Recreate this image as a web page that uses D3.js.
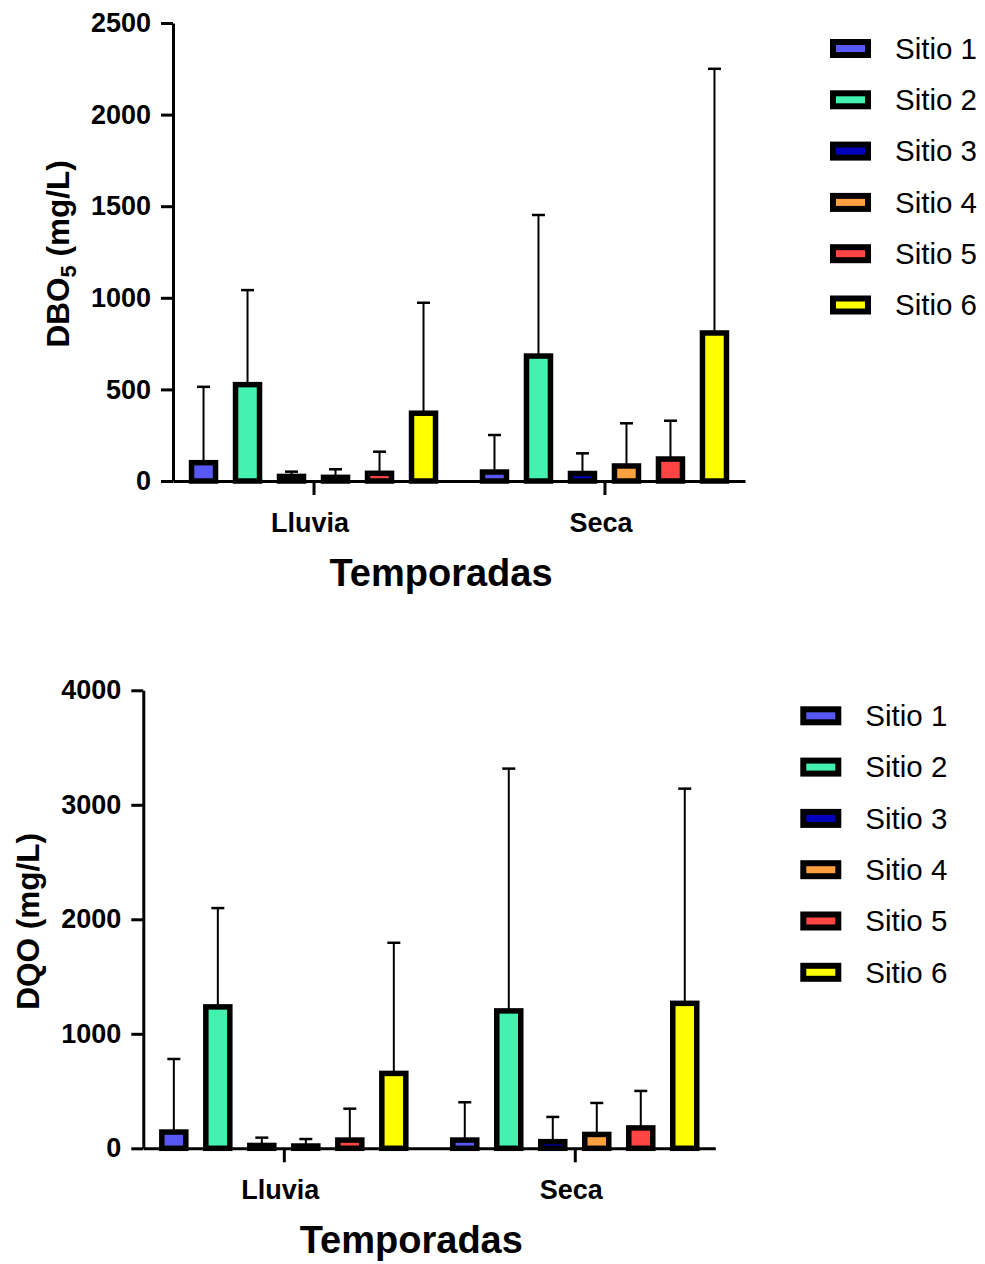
<!DOCTYPE html>
<html>
<head>
<meta charset="utf-8">
<script src="https://cdn.jsdelivr.net/npm/d3@7"></script>
<style>
  body { margin: 0; background: #fff; }
  svg text { font-family: "Liberation Sans", Arial, sans-serif; }
</style>
</head>
<body>
<svg id="chart" width="985" height="1264"></svg>
<script>
// categories and series
var seasons = ["Lluvia", "Seca"];
var sites = ["Sitio 1", "Sitio 2", "Sitio 3", "Sitio 4", "Sitio 5", "Sitio 6"];
var siteColors = ["#5858f6", "#44f2b0", "#0000bd", "#ffa040", "#ff4444", "#ffff00"];

// DBO5 (mg/L): mean and upper SD per site
var dboLluvia = [100, 526, 25, 20, 42, 370];
var dboLluviaSd = [414, 516, 26, 44, 118, 603];
var dboSeca = [49, 682, 41, 82, 120, 808];
var dboSecaSd = [202, 770, 110, 233, 209, 1442];
var dboTicks = [0, 500, 1000, 1500, 2000, 2500];

// DQO (mg/L)
var dqoLluvia = [142, 1235, 25, 20, 72, 654];
var dqoLluviaSd = [638, 863, 68, 61, 274, 1141];
var dqoSeca = [72, 1200, 58, 121, 178, 1266];
var dqoSecaSd = [330, 2116, 216, 275, 323, 1875];
var dqoTicks = [0, 1000, 2000, 3000, 4000];

var svg = d3.select("#chart");
var plotW = 572, plotH = 458;

function drawPanel(ox, oy, means, sds, ticks, yTitle, sub) {
  var g = svg.append("g").attr("transform", "translate(" + ox + "," + oy + ")");

  var y = d3.scaleLinear().domain([0, ticks[ticks.length - 1]]).range([0, -plotH]);
  var x = d3.scalePoint().domain(seasons).range([0, plotW]).padding(0.483);
  var xs = d3.scaleBand().domain(sites).range([-132, 132])
    .paddingInner(0.4545).paddingOuter(0.2273);

  var rows = [];
  seasons.forEach(function (s, si) {
    sites.forEach(function (site, i) {
      rows.push({season: s, site: site, i: i, mean: means[si][i], sd: sds[si][i]});
    });
  });

  // error bars (upper only)
  var eb = g.append("g");
  eb.selectAll("line.err").data(rows).enter().append("line")
    .attr("x1", function (d) { return x(d.season) + xs(d.site) + xs.bandwidth() / 2; })
    .attr("x2", function (d) { return x(d.season) + xs(d.site) + xs.bandwidth() / 2; })
    .attr("y1", function (d) { return y(d.mean); })
    .attr("y2", function (d) { return y(d.mean + d.sd); })
    .attr("stroke", "#000").attr("stroke-width", 2);
  eb.selectAll("line.cap").data(rows).enter().append("line")
    .attr("x1", function (d) { return x(d.season) + xs(d.site) + xs.bandwidth() / 2 - 6.5; })
    .attr("x2", function (d) { return x(d.season) + xs(d.site) + xs.bandwidth() / 2 + 6.5; })
    .attr("y1", function (d) { return y(d.mean + d.sd); })
    .attr("y2", function (d) { return y(d.mean + d.sd); })
    .attr("stroke", "#000").attr("stroke-width", 2.5);

  // bars
  g.append("g").selectAll("rect").data(rows).enter().append("rect")
    .attr("x", function (d) { return x(d.season) + xs(d.site); })
    .attr("y", function (d) { return y(d.mean); })
    .attr("width", xs.bandwidth())
    .attr("height", function (d) { return -y(d.mean); })
    .attr("fill", function (d) { return siteColors[d.i]; })
    .attr("stroke", "#000").attr("stroke-width", 5.5);

  // y axis
  var ya = g.append("g").call(d3.axisLeft(y).tickValues(ticks).tickFormat(d3.format("d"))
    .tickSize(12).tickSizeOuter(0).tickPadding(10));
  ya.select(".domain").attr("stroke-width", 3);
  ya.selectAll(".tick line").attr("stroke-width", 3);
  ya.selectAll(".tick text").attr("font-size", 27).attr("font-weight", "bold").attr("fill", "#000");

  // x axis
  var xa = g.append("g").call(d3.axisBottom(x).tickSize(14).tickSizeOuter(0).tickPadding(18));
  xa.select(".domain").attr("stroke-width", 3);
  xa.selectAll(".tick line").attr("stroke-width", 3);
  xa.selectAll(".tick text").attr("font-size", 27).attr("font-weight", "bold").attr("fill", "#000")
    .attr("dx", -4);

  g.append("text")
    .attr("x", plotW / 2 - 18).attr("y", 105)
    .attr("text-anchor", "middle").attr("font-size", 38).attr("font-weight", "bold")
    .text("Temporadas");

  var yt = g.append("text")
    .attr("transform", "translate(-104," + (-plotH / 2 + 2) + ") rotate(-90)")
    .attr("text-anchor", "middle").attr("font-size", 31.5).attr("font-weight", "bold");
  yt.append("tspan").text(yTitle);
  if (sub) {
    yt.append("tspan").attr("font-size", 22).attr("dy", 7).text(sub);
    yt.append("tspan").attr("dy", -7).text(" (mg/L)");
  } else {
    yt.append("tspan").text(" (mg/L)");
  }

  // legend
  var lg = g.append("g").attr("transform", "translate(657," + (-432.5) + ")");
  var item = lg.selectAll("g").data(sites).enter().append("g")
    .attr("transform", function (d, i) { return "translate(0," + (i * 51.3) + ")"; });
  item.append("rect")
    .attr("x", 3).attr("y", -6.5).attr("width", 35).attr("height", 13)
    .attr("fill", function (d, i) { return siteColors[i]; })
    .attr("stroke", "#000").attr("stroke-width", 6);
  item.append("text")
    .attr("x", 65).attr("y", 0).attr("dy", "0.35em")
    .attr("font-size", 29.5).text(function (d) { return d; });
}

drawPanel(173, 481, [dboLluvia, dboSeca], [dboLluviaSd, dboSecaSd], dboTicks, "DBO", "5");
drawPanel(143.3, 1148.3, [dqoLluvia, dqoSeca], [dqoLluviaSd, dqoSecaSd], dqoTicks, "DQO", null);
</script>
</body>
</html>
